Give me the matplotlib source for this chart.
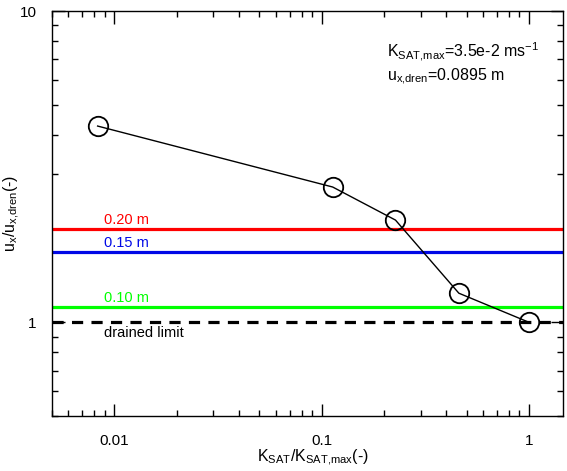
import matplotlib.pyplot as plt
from matplotlib.ticker import LogLocator, NullFormatter, FixedLocator, FixedFormatter

plt.rcParams['font.family'] = ['Liberation Sans', 'DejaVu Sans']
plt.rcParams['mathtext.default'] = 'regular'

# data
k_ratio = [0.0083, 0.113, 0.227, 0.459, 1.0]
u_ratio = [4.27, 2.72, 2.13, 1.24, 1.0]

level_names = ['0.20 m', '0.15 m', '0.10 m']
level_values = [2.0, 1.68, 1.12]
level_colors = ['#ff0000', '#0008e6', '#00ff00']
drained_limit = 1.0

fig = plt.figure(figsize=(5.67, 4.71), dpi=100)
ax = fig.add_axes([0.0917, 0.1168, 0.9013, 0.8598])

for name, val, col in zip(level_names, level_values, level_colors):
    ax.axhline(val, color=col, lw=2.3, zorder=2)
    ax.text(0.0089, val * 1.015, name, color=col, fontsize=10.5, va='bottom', ha='left')

ax.axhline(drained_limit, color='black', lw=2.3, ls=(0, (3.5, 2.6)), zorder=2)
ax.text(0.0089, drained_limit * 0.975, 'drained limit', color='black', fontsize=10.5,
        va='top', ha='left')

ax.plot(k_ratio, u_ratio, color='black', lw=1, marker='o', ms=14, mfc='none',
        mec='black', mew=1.3, zorder=3)

ax.set_xscale('log')
ax.set_yscale('log')
ax.set_xlim(0.005, 1.46)
ax.set_ylim(0.5, 10)

ax.xaxis.set_major_locator(FixedLocator([0.01, 0.1, 1]))
ax.xaxis.set_major_formatter(FixedFormatter(['0.01', '0.1', '1']))
ax.xaxis.set_minor_locator(LogLocator(base=10, subs=range(2, 10)))
ax.xaxis.set_minor_formatter(NullFormatter())
ax.yaxis.set_major_locator(FixedLocator([1, 10]))
ax.yaxis.set_major_formatter(FixedFormatter(['1', '10']))
ax.yaxis.set_minor_locator(LogLocator(base=10, subs=range(2, 10)))
ax.yaxis.set_minor_formatter(NullFormatter())

ax.tick_params(which='both', direction='in', top=True, right=True, labelsize=11)
ax.tick_params(axis='x', which='major', pad=13)
ax.tick_params(axis='y', which='major', pad=11)
ax.tick_params(which='major', length=9, width=1)
ax.tick_params(which='minor', length=4.5, width=1)
for s in ax.spines.values():
    s.set_linewidth(1)

ax.set_xlabel('K$_{SAT}$/K$_{SAT{,}max}$(-)', fontsize=11.5)
ax.set_ylabel('u$_{x}$/u$_{x{,}dren}$(-)', fontsize=11.5)
ax.xaxis.set_label_coords(0.51, -0.078)
ax.yaxis.set_label_coords(-0.058, 0.5)

ax.text(0.655, 0.886, 'K$_{SAT{,}max}$=3.5e-2 ms$^{-1}$', transform=ax.transAxes,
        fontsize=11.5, ha='left', va='baseline')
ax.text(0.655, 0.827, 'u$_{x{,}dren}$=0.0895 m', transform=ax.transAxes,
        fontsize=11.5, ha='left', va='baseline')

fig.savefig('out.png', dpi=100)
